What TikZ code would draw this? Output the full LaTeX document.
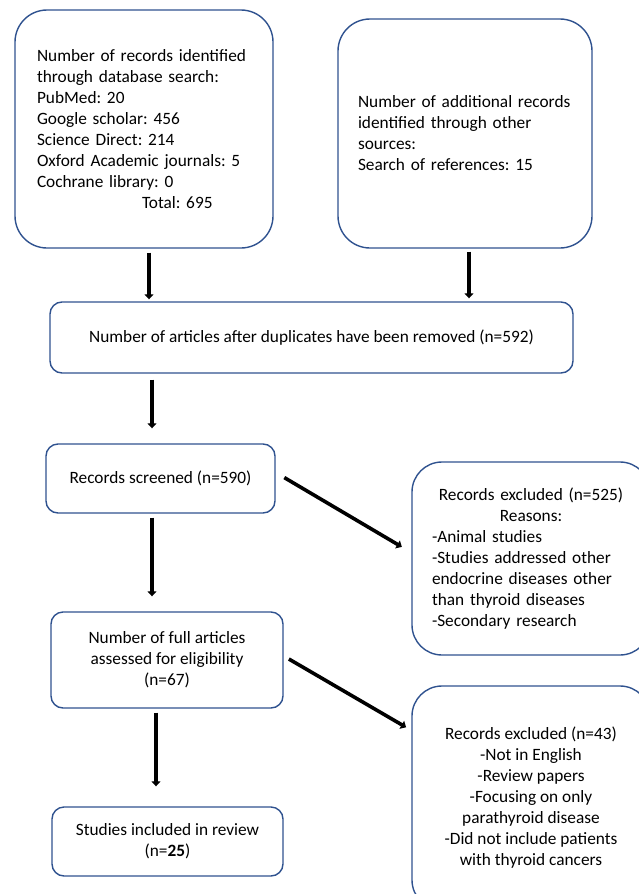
\documentclass[tikz,border=0pt]{standalone}
\usepackage{fontspec}
\setmainfont{Carlito}
\usepackage{xcolor}
\usetikzlibrary{positioning,arrows.meta,calc}
\definecolor{boxblue}{HTML}{2F528F}
\frenchspacing

\begin{document}
\begin{tikzpicture}[x=1pt, y=-1pt,
  font=\fontsize{17.3pt}{21pt}\selectfont\frenchspacing, >={Triangle[length=5pt,width=9pt]},
  b/.style={draw=boxblue, line width=1.4pt, rounded corners=12pt, inner sep=0pt},
  bb/.style={b, rounded corners=32pt}, a/.style={->, line width=3.6pt}]
\useasboundingbox (0,0) rectangle (639,894);
% sources
\node[bb, minimum width=258pt, minimum height=238pt, text width=214pt, align=left] (db) at (144,129)
  {Number of records identified\\through database search:\\PubMed: 20\\Google scholar: 456\\Science Direct: 214\\Oxford Academic journals: 5\\Cochrane library: 0\\\hspace*{105pt}Total: 695};
\node[bb, minimum width=254pt, minimum height=229pt, text width=214pt, align=left] (oth) at (465,133.5)
  {Number of additional records\\identified through other\\sources:\\Search of references: 15};
\node[b, minimum width=523pt, minimum height=71pt, align=center] (dup) at (311.5,337.5)
  {Number of articles after duplicates have been removed (n=592)};
% main column
\node[b, minimum width=229pt, minimum height=69pt, align=center] (scr) at (160.5,478.5) {Records screened (n=590)};
\node[b, minimum width=232pt, minimum height=96pt, align=center] (full) at (167,660)
  {Number of full articles\\assessed for eligibility\\(n=67)};
\node[b, minimum width=231pt, minimum height=69pt, align=center] (incl) at (167.5,841.5)
  {Studies included in review\\(n=\textbf{25})};
% exclusions
\node[bb, rounded corners=30pt, minimum width=238pt, minimum height=193pt, text width=198pt, align=left] (ex1) at (531,558.5)
  {\makebox[\hsize]{Records excluded (n=525)}\\\makebox[\hsize]{Reasons:}\\-Animal studies\\-Studies addressed other\\endocrine diseases other\\than thyroid diseases\\-Secondary research};
\node[bb, rounded corners=30pt, minimum width=238pt, minimum height=224pt, align=center] (ex2) at (531,798)
  {Records excluded (n=43)\\-Not in English\\-Review papers\\-Focusing on only\\parathyroid disease\\-Did not include patients\\with thyroid cancers};
\draw[a, shorten <=4pt, shorten >=2pt] ([xshift=5pt]db.south) -- ([xshift=5pt]db.south |- dup.north);
\draw[a, shorten <=3pt, shorten >=3pt] ([xshift=4pt]oth.south) -- ([xshift=4pt]oth.south |- dup.north);
\draw[a, shorten <=6pt, shorten >=15pt] ([xshift=-8.5pt]scr.north |- dup.south) -- ([xshift=-8.5pt]scr.north);
\draw[a, shorten <=4pt, shorten >=15pt] ([xshift=-8.5pt]scr.south) -- ([xshift=-8.5pt]scr.south |- full.north);
\draw[a, shorten <=4pt, shorten >=20pt] ([xshift=-11pt]full.south) -- ([xshift=-11pt]full.south |- incl.north);
\draw[a, shorten <=10pt, shorten >=11pt] ([yshift=6pt]scr.east) -- ([yshift=6pt]ex1.west);
\draw[a, shorten <=6pt, shorten >=6pt] ([yshift=4pt]full.east) -- ([yshift=-45pt]ex2.north west);
\end{tikzpicture}
\end{document}
